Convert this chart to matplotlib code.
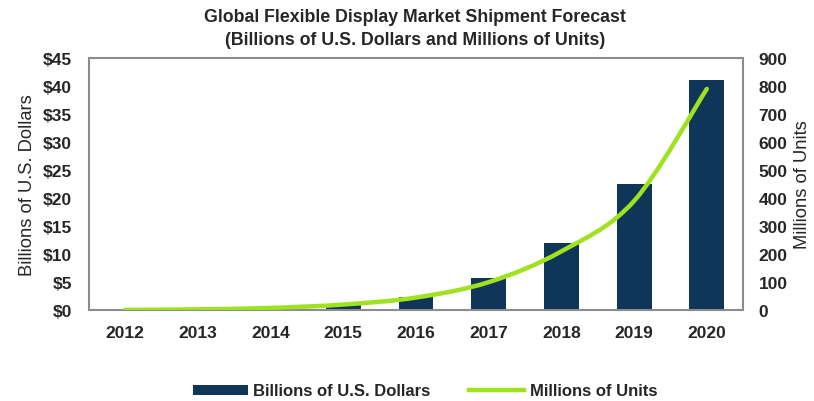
import matplotlib
matplotlib.use('Agg')
import matplotlib.pyplot as plt
from matplotlib.path import Path
from matplotlib.patches import PathPatch
from matplotlib.lines import Line2D
from matplotlib.patches import Patch
import numpy as np

years = ['2012', '2013', '2014', '2015', '2016', '2017', '2018', '2019', '2020']
dollars = [0.05, 0.1, 0.3, 1.0, 2.3, 5.7, 12.0, 22.6, 41.0]   # billions USD
units = [1, 3, 8, 20, 45, 100, 210, 390, 790]                  # millions of units

dollar_ticks = [0, 5, 10, 15, 20, 25, 30, 35, 40, 45]
unit_ticks = [0, 100, 200, 300, 400, 500, 600, 700, 800, 900]

BAR = '#0f3659'
LIME = '#9fe220'
TXT = '#262626'
plt.rcParams['font.family'] = ['Liberation Sans', 'DejaVu Sans']

fig = plt.figure(figsize=(8.14, 4.02), dpi=100)
ax = fig.add_axes([0.109, 0.226, 0.804, 0.627])
x = np.arange(len(years))
ax.bar(x, dollars, width=0.48, color=BAR, zorder=2)
ax.set_xlim(-0.5, len(years) - 0.5)
ax.set_ylim(0, 45)
ax.set_yticks(dollar_ticks)
ax.set_yticklabels(['$%d' % t for t in dollar_ticks])
ax.set_xticks(x)
ax.set_xticklabels(years)
ax.tick_params(axis='y', length=0, labelsize=12.5, colors=TXT, pad=12)
ax.tick_params(axis='x', length=0, labelsize=12.5, colors=TXT, pad=11)
for lab in ax.get_xticklabels() + ax.get_yticklabels():
    lab.set_fontweight('bold')
for s in ax.spines.values():
    s.set_color('#8c8c8c')
    s.set_linewidth(1.5)
ax.set_ylabel('Billions of U.S. Dollars', fontsize=13.2, color=TXT, labelpad=5)

ax2 = ax.twinx()
ax2.set_ylim(0, 900)
ax2.set_yticks(unit_ticks)
ax2.tick_params(length=0, labelsize=12.5, colors=TXT, pad=11)
for lab in ax2.get_yticklabels():
    lab.set_fontweight('bold')
for s in ax2.spines.values():
    s.set_visible(False)
ax2.set_ylabel('Millions of Units', fontsize=13.2, color=TXT, labelpad=5)

# smoothed line (Catmull-Rom style bezier through the data points)
pts = np.column_stack([x, units]).astype(float)
ext = np.vstack([pts[0], pts, pts[-1]])
verts = [tuple(pts[0])]
codes = [Path.MOVETO]
for i in range(len(pts) - 1):
    p0, p1, p2, p3 = ext[i], ext[i + 1], ext[i + 2], ext[i + 3]
    c1 = p1 + (p2 - p0) / 6
    c2 = p2 - (p3 - p1) / 6
    verts += [tuple(c1), tuple(c2), tuple(p2)]
    codes += [Path.CURVE4] * 3
ax2.add_patch(PathPatch(Path(verts, codes), fill=False, edgecolor=LIME, lw=3.2,
                        capstyle='round', zorder=3))

fig.text(0.51, 0.957, 'Global Flexible Display Market Shipment Forecast',
         ha='center', va='center', fontsize=12.8, fontweight='bold', color=TXT)
fig.text(0.51, 0.9, '(Billions of U.S. Dollars and Millions of Units)',
         ha='center', va='center', fontsize=12.8, fontweight='bold', color=TXT)

handles = [Patch(facecolor=BAR), Line2D([0], [0], color=LIME, lw=3.2)]
leg = fig.legend(handles, ['Billions of U.S. Dollars', 'Millions of Units'],
                 loc='center', bbox_to_anchor=(0.522, 0.025), ncol=2, frameon=False,
                 handlelength=3.3, handleheight=0.55, handletextpad=0.35,
                 columnspacing=2.3, labelcolor=TXT,
                 prop={'size': 12, 'weight': 'bold'})

fig.savefig('out.png', dpi=100)
